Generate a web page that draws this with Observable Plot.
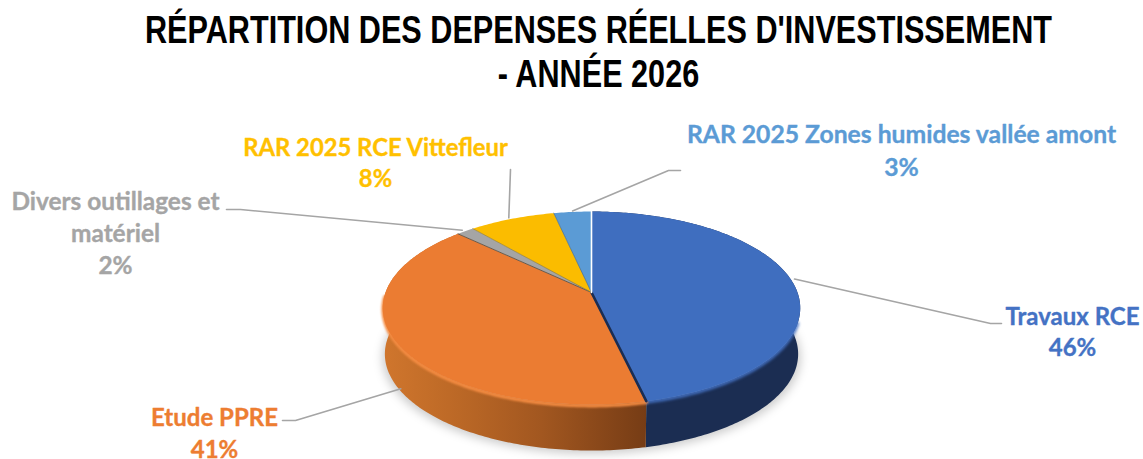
<!DOCTYPE html>
<html lang="fr"><head><meta charset="utf-8">
<script src="https://cdn.jsdelivr.net/npm/d3@7"></script>
<script src="https://cdn.jsdelivr.net/npm/@observablehq/plot@0.6"></script>
<style>
html,body{margin:0;padding:0;background:#fff;width:1143px;height:459px;overflow:hidden}
#t{height:100px;width:1143px;box-sizing:border-box;padding-top:8px;overflow:hidden}
#t div{width:1143px;text-align:center;font:bold 38px/44px "Liberation Sans",Arial,sans-serif;color:#000;white-space:nowrap;transform:translateX(27px) scaleX(.806)}
svg{display:block}
</style></head><body>
<div id="t"></div>
<div id="c"></div>
<script>
// ---- data
const titleLines = ["RÉPARTITION DES DEPENSES RÉELLES D'INVESTISSEMENT", "- ANNÉE 2026"];
const names = ["Travaux RCE", "Etude PPRE", "Divers outillages et matériel", "RAR 2025 RCE Vittefleur", "RAR 2025 Zones humides vallée amont"];
const values = [46.4, 40.8, 1.6, 7.8, 3.4];
const labelTexts = ["Travaux RCE", "Etude PPRE", "Divers outillages et\nmatériel", "RAR 2025 RCE Vittefleur", "RAR 2025 Zones humides vallée amont"];
const colors = ["#4472C4", "#ED7D31", "#A5A5A5", "#FFC000", "#5B9BD5"];

// ---- layout (page pixels)
const W = 1143, H = 359, TOP = 100;
const cx = 591, cy = 292, A = 206, B = 94, k = 0.161, depth = 46 / B, taper = 0.99;
const labelAt = [[1072, 301.5], [214, 403], [115, 186.5], [375, 133], [901, 119.5]];
const labelSizes = [24, 24, 24.4, 23.8, 24.7];
const knees = [[[990, 323], [1001, 323]], [[295, 420], [282, 420]], [[240, 209], [226, 209]], [[510, 169]], [[668, 170], [680, 170]]];
const leaderNudge = [[2, -3], [4, 0], [-3, -1], [-3, -1], [0, -1]];
const faceFills = ["#3F6EBF", "#EB7C32", "#A5A5A5", "#FBBC00", "#5B9BD5"];
const pxX = p => (p - cx) / A, pxY = p => (p - cy) / B;
const rad = d => d * Math.PI / 180;

// ---- geometry derived from the values
const arcs = d3.pie().sort(null).value(d => d)(values);
const rim = a => { const u = Math.sin(a), v = -Math.cos(a), w = 1 - k * v; return {x: u / w, y: v / w}; };
const sweep = (a0, a1) => { const n = Math.max(2, Math.ceil((a1 - a0) / 0.015)); return d3.range(n + 1).map(i => rim(a0 + (a1 - a0) * i / n)); };
const down = p => ({x: p.x * taper, y: p.y + depth});

const faces = arcs.flatMap((s, i) => [{x: 0, y: 0}, ...sweep(s.startAngle, s.endAngle), {x: 0, y: 0}].map(p => ({...p, name: names[i]})));
const side = i => { const top = sweep(arcs[i].startAngle, arcs[i].endAngle); return [...top, ...top.slice().reverse().map(down)]; };
const circle = sweep(0, 2 * Math.PI);
const edge = a => [{x: 0, y: 0}, rim(a)];

const labels = names.map((n, i) => ({name: n, size: labelSizes[i], text: `${labelTexts[i]}\n${Math.round(values[i])}%`, x: pxX(labelAt[i][0]), y: pxY(labelAt[i][1])}));
const leaders = arcs.flatMap((s, i) => {
  const m = rim((s.startAngle + s.endAngle) / 2);
  const start = {x: m.x + leaderNudge[i][0] / A, y: m.y + (i === 1 ? depth : 0) + leaderNudge[i][1] / B};
  return [start, ...knees[i].map(([x, y]) => ({x: pxX(x), y: pxY(y)}))].map(p => ({...p, name: names[i]}));
});

const tEl = document.getElementById("t");
titleLines.forEach(l => { const d = document.createElement("div"); d.textContent = l; tEl.appendChild(d); });

const defs = () => {
  const d = d3.create("svg:defs");
  const g = d.append("linearGradient").attr("id", "sideOrange").attr("x1", 0).attr("x2", 1).attr("y1", 0).attr("y2", 0);
  [[0, "#D0762D"], [0.25, "#BE6A27"], [0.6, "#A25720"], [1, "#763C15"]].forEach(([o, c]) => g.append("stop").attr("offset", o).attr("stop-color", c));
  return d.node();
};

const bottomOutline = circle.map(down);
const chart = Plot.plot({
  width: W, height: H, margin: 0,
  x: {domain: [pxX(0), pxX(W)], range: [0, W], axis: null},
  y: {domain: [pxY(TOP), pxY(TOP + H)], range: [0, H], axis: null},
  color: {domain: names, range: colors},
  style: {background: "transparent", overflow: "visible"},
  marks: [
    defs,
    // soft shadow
    Plot.line(bottomOutline, {x: d => d.x * 1.012, y: d => d.y + 0.035, fill: "#000", fillOpacity: 0.2, stroke: "none", imageFilter: "blur(5px)"}),
    // side walls
    Plot.line(side(0), {x: "x", y: "y", fill: "#1B2D52", stroke: "none"}),
    Plot.line(side(1), {x: "x", y: "y", fill: "url(#sideOrange)", stroke: "none"}),
    // bevel at the rim
    Plot.line(sweep(rad(108), arcs[0].endAngle), {x: d => d.x * 0.998, y: d => d.y + 0.006, stroke: "#4472C4", strokeWidth: 3.5, imageFilter: "blur(1.5px)"}),
    Plot.line(sweep(arcs[1].startAngle, rad(268)), {x: d => d.x * 0.998, y: d => d.y + 0.012, stroke: "#F58C42", strokeWidth: 3.5, imageFilter: "blur(0.8px)"}),
    // top faces
    Plot.line(faces, {x: "x", y: "y", z: "name", fill: d => faceFills[names.indexOf(d.name)], stroke: "none"}),
    // slice edges
    Plot.line(edge(arcs[0].endAngle), {x: "x", y: "y", stroke: "#1B2D52", strokeWidth: 2.6}),
    Plot.line(edge(arcs[1].endAngle), {x: "x", y: "y", stroke: "#6b5a4a", strokeWidth: 1}),
    Plot.line(edge(arcs[2].endAngle), {x: "x", y: "y", stroke: "#8a7a40", strokeWidth: 0.7}),
    Plot.line(edge(arcs[3].endAngle), {x: "x", y: "y", stroke: "#4a6a80", strokeWidth: 0.7}),
    Plot.line(edge(arcs[4].endAngle), {x: "x", y: "y", stroke: "#fff", strokeWidth: 1.6}),
    // leader lines
    Plot.line(leaders, {x: "x", y: "y", z: "name", stroke: "#A5A5A5", strokeWidth: 1.6}),
    // labels
    Plot.text(labels, {x: "x", y: "y", text: "text", fill: "name", stroke: "name", strokeWidth: 0.35, lineAnchor: "top", textAnchor: "middle", lineHeight: 1.32, fontSize: "size", fontWeight: 700, fontFamily: "Lato, 'Noto Sans', sans-serif"})
  ]
});
document.getElementById("c").appendChild(chart);
</script>
</body></html>
